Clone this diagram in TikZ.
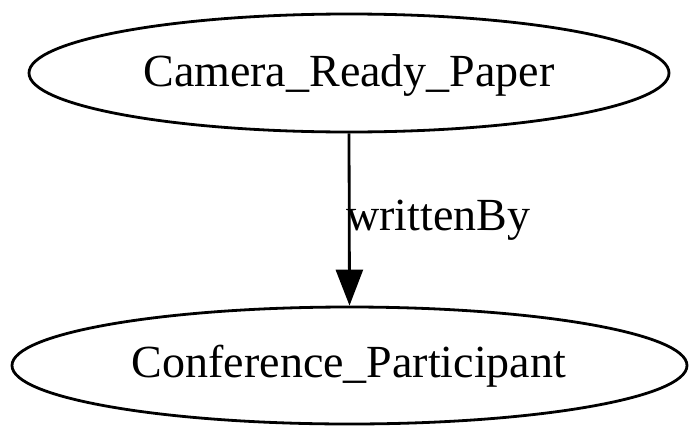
\documentclass[tikz,border=0pt]{standalone}
\usepackage{fontspec}
\setmainfont{Liberation Serif}
\usetikzlibrary{arrows.meta,shapes.geometric}
\begin{document}
\begin{tikzpicture}[x=1pt,y=-1pt,
  nodebox/.style={draw,line width=2.8pt,ellipse,inner sep=0pt},
  lbl/.style={font=\fontsize{46}{55}\selectfont},
  edge/.style={line width=2.8pt,-{Triangle[length=36pt,width=27pt]}}]
\useasboundingbox (0,0) rectangle (700,439);
\node[nodebox,minimum width=640pt,minimum height=118pt] (a) at (349,73) {};
\node[lbl] at (349,76) {Camera\_Ready\_Paper};
\node[nodebox,minimum width=675pt,minimum height=117pt] (b) at (349.5,365.5) {};
\node[lbl] at (349,366) {Conference\_Participant};
\draw[edge] (a.south) -- (b.north);
\node[lbl,anchor=west,inner sep=0pt] at (346,220) {writtenBy};
\end{tikzpicture}
\end{document}
